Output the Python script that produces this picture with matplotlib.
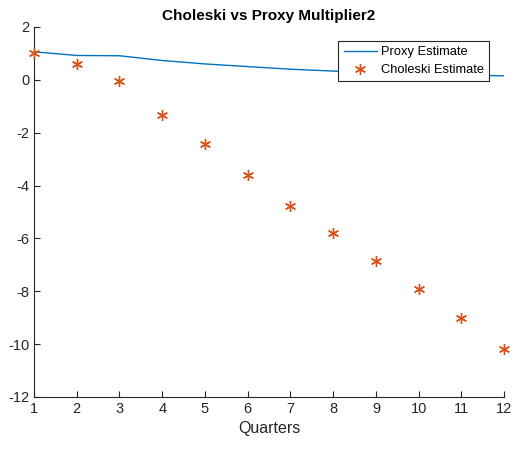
import numpy as np
import matplotlib
matplotlib.use("Agg")
import matplotlib.pyplot as plt

plt.rcParams["font.family"] = ["Liberation Sans", "DejaVu Sans"]
plt.rcParams["axes.unicode_minus"] = False

quarters = np.arange(1, 13)
proxy = [1.06, 0.92, 0.91, 0.73, 0.60, 0.50, 0.40, 0.33, 0.27, 0.22, 0.18, 0.15]
choleski = [1.0, 0.58, -0.06, -1.35, -2.42, -3.62, -4.77, -5.80, -6.85, -7.90, -9.00, -10.18]

fig = plt.figure(figsize=(5.15, 4.49), dpi=100)
ax = fig.add_axes([0.066, 0.116, 0.913, 0.824])
ax.plot(quarters, proxy, color="#0072BD", lw=1, label="Proxy Estimate")
ax.plot(quarters, choleski, ls="none", marker=(6, 2, 0), ms=8, mew=1,
        color="#D95319", label="Choleski Estimate", clip_on=False, zorder=3)
ax.set_xlim(1, 12)
ax.set_ylim(-12, 2)
ax.set_xticks(quarters)
ax.set_yticks(np.arange(-12, 3, 2))
for s in ("top", "right"):
    ax.spines[s].set_visible(False)
for s in ("left", "bottom"):
    ax.spines[s].set_color("#262626")
    ax.spines[s].set_linewidth(0.8)
ax.tick_params(direction="in", length=4, labelsize=10.5, colors="#262626", width=0.8)
ax.set_xlabel("Quarters", fontsize=11.5, color="#262626")
ax.set_title("Choleski vs Proxy Multiplier2", fontsize=11, fontweight="bold", pad=5)
leg = ax.legend(loc="upper right", bbox_to_anchor=(0.968, 0.962), fontsize=9.3,
                fancybox=False, framealpha=1, edgecolor="#262626",
                borderpad=0.4, handlelength=2.6, handletextpad=0.3,
                labelspacing=0.45, borderaxespad=0)
leg.get_frame().set_linewidth(0.8)
fig.savefig("out.png", dpi=100)
